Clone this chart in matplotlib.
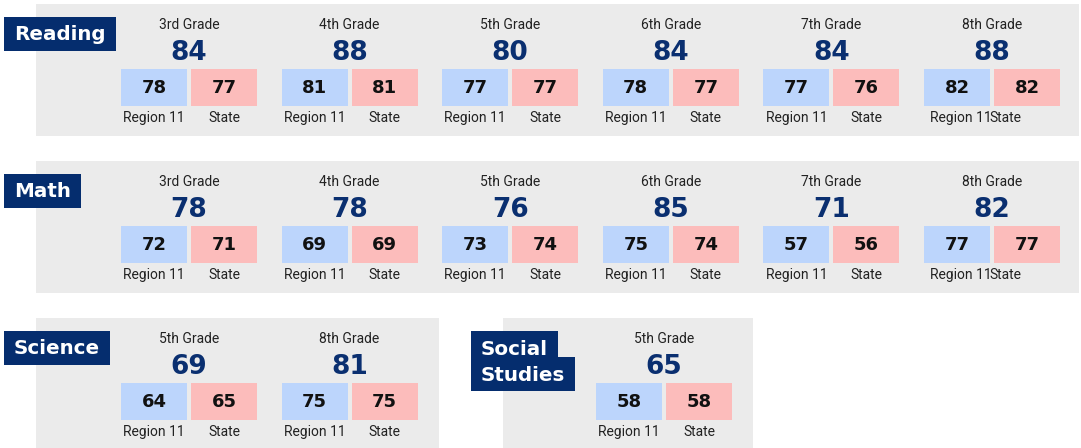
import matplotlib.pyplot as plt
from matplotlib.patches import Rectangle

# data
grades_6 = ['3rd Grade', '4th Grade', '5th Grade', '6th Grade', '7th Grade', '8th Grade']
reading_overall = [84, 88, 80, 84, 84, 88]
reading_region = [78, 81, 77, 78, 77, 82]
reading_state = [77, 81, 77, 77, 76, 82]

math_overall = [78, 78, 76, 85, 71, 82]
math_region = [72, 69, 73, 75, 57, 77]
math_state = [71, 69, 74, 74, 56, 77]

science_grades = ['5th Grade', '8th Grade']
science_overall = [69, 81]
science_region = [64, 75]
science_state = [65, 75]

social_grades = ['5th Grade']
social_overall = [65]
social_region = [58]
social_state = [58]

# colours
NAVY = '#052d6e'
NUM = '#0a2f70'
BLUE = '#bcd5fc'
RED = '#fcbcbb'
PANEL = '#ebebeb'
LABEL = '#222222'

fig = plt.figure(figsize=(10.81, 4.48), dpi=100)
ax = fig.add_axes([0, 0, 1, 1])
ax.set_xlim(0, 1081)
ax.set_ylim(448, 0)
ax.axis('off')
renderer = fig.canvas.get_renderer()

COL_W = 160.6
ROW_H = 157


def panel(x0, x1, top):
    ax.add_patch(Rectangle((x0, top), x1 - x0, 132, color=PANEL, lw=0, zorder=0))


def title_box(txt, x, baseline, y0, y1):
    t = ax.text(x, baseline, txt, ha='left', va='baseline', fontsize=14.3,
                family='DejaVu Sans', weight='bold', color='white', zorder=4)
    bb = t.get_window_extent(renderer=renderer)
    w = bb.width  # 1 data unit == 1 pixel
    ax.add_patch(Rectangle((x - 10, y0), w + 20, y1 - y0, color=NAVY, lw=0, zorder=3))


def grade_block(left, top, grade, overall, region, state, squeezed=False):
    cx = left + 68
    ax.text(cx, top + 25, grade, ha='center', va='baseline', fontsize=10,
            family='Roboto', color=LABEL)
    ax.text(cx, top + 56, str(overall), ha='center', va='baseline', fontsize=19,
            family='DejaVu Sans', weight='bold', color=NUM)
    ax.add_patch(Rectangle((left, top + 65), 66, 37, color=BLUE, lw=0, zorder=1))
    ax.add_patch(Rectangle((left + 70, top + 65), 66, 37, color=RED, lw=0, zorder=1))
    ax.text(left + 33, top + 89, str(region), ha='center', va='baseline',
            fontsize=13, family='DejaVu Sans', weight='bold', color='#111111', zorder=2)
    ax.text(left + 103, top + 89, str(state), ha='center', va='baseline',
            fontsize=13, family='DejaVu Sans', weight='bold', color='#111111', zorder=2)
    if squeezed:
        # last column: labels run together as in the original
        ax.text(left + 6, top + 118, 'Region 11', ha='left', va='baseline',
                fontsize=10, family='Roboto', color=LABEL)
        ax.text(left + 65, top + 118, 'State', ha='left', va='baseline',
                fontsize=10, family='Roboto', color=LABEL)
    else:
        ax.text(left + 33, top + 118, 'Region 11', ha='center', va='baseline',
                fontsize=10, family='Roboto', color=LABEL)
        ax.text(left + 103, top + 118, 'State', ha='center', va='baseline',
                fontsize=10, family='Roboto', color=LABEL)


# Reading
top = 4
panel(36, 1079, top)
title_box('Reading', 14, top + 36, top + 13, top + 47)
for i, g in enumerate(grades_6):
    grade_block(121 + COL_W * i, top, g, reading_overall[i], reading_region[i],
                reading_state[i], squeezed=(i == len(grades_6) - 1))

# Math
top = 4 + ROW_H
panel(36, 1079, top)
title_box('Math', 14, top + 36, top + 13, top + 47)
for i, g in enumerate(grades_6):
    grade_block(121 + COL_W * i, top, g, math_overall[i], math_region[i],
                math_state[i], squeezed=(i == len(grades_6) - 1))

# Science
top = 4 + 2 * ROW_H
panel(36, 439, top)
title_box('Science', 14, top + 36, top + 13, top + 47)
for i, g in enumerate(science_grades):
    grade_block(121 + COL_W * i, top, g, science_overall[i], science_region[i], science_state[i])

# Social Studies
panel(503, 753, top)
title_box('Social', 481, top + 37, top + 13, top + 40)
title_box('Studies', 481, top + 63, top + 39, top + 73)
for i, g in enumerate(social_grades):
    grade_block(596 + COL_W * i, top, g, social_overall[i], social_region[i], social_state[i])

fig.savefig('out.png', dpi=100)
